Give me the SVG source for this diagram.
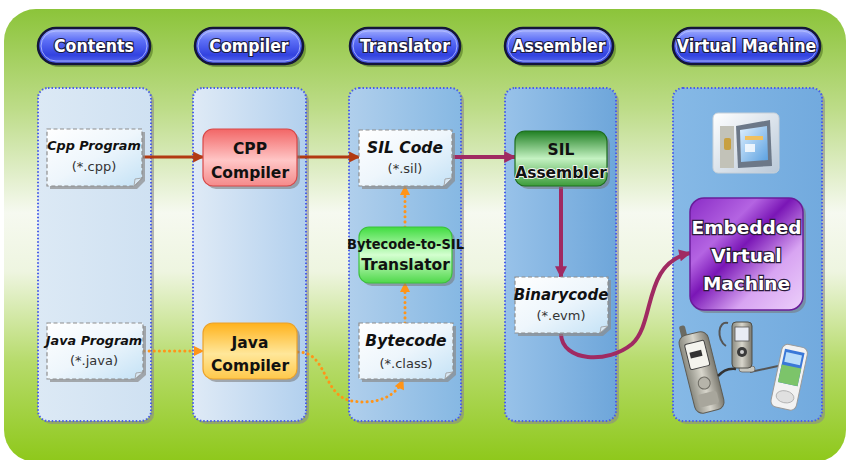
<svg xmlns="http://www.w3.org/2000/svg" width="846" height="460" viewBox="0 0 846 460">
  <defs>
    <linearGradient id="bgGrad" x1="0" y1="0" x2="0" y2="1">
      <stop offset="0" stop-color="#8cc43a"/>
      <stop offset="0.22" stop-color="#bddc88"/>
      <stop offset="0.45" stop-color="#f6f9f0"/>
      <stop offset="0.58" stop-color="#eef5e0"/>
      <stop offset="0.78" stop-color="#b6db6a"/>
      <stop offset="1" stop-color="#8ec81a"/>
    </linearGradient>
    <linearGradient id="pillGrad" x1="0" y1="0" x2="0" y2="1">
      <stop offset="0" stop-color="#a8b4ff"/>
      <stop offset="0.35" stop-color="#5c6ef6"/>
      <stop offset="0.75" stop-color="#3242e0"/>
      <stop offset="1" stop-color="#5a6cf0"/>
    </linearGradient>
    <linearGradient id="col1" x1="0" y1="0" x2="1" y2="0">
      <stop offset="0" stop-color="#dce9f5"/>
      <stop offset="1" stop-color="#cfe1f2"/>
    </linearGradient>
    <linearGradient id="col2" x1="0" y1="0" x2="1" y2="0">
      <stop offset="0" stop-color="#dfeaf6"/>
      <stop offset="1" stop-color="#b2d0ee"/>
    </linearGradient>
    <linearGradient id="col3" x1="0" y1="0" x2="1" y2="0">
      <stop offset="0" stop-color="#b0cfec"/>
      <stop offset="1" stop-color="#86b8e3"/>
    </linearGradient>
    <linearGradient id="col4" x1="0" y1="0" x2="1" y2="0">
      <stop offset="0" stop-color="#98c2e9"/>
      <stop offset="1" stop-color="#6ea6da"/>
    </linearGradient>
    <linearGradient id="col5" x1="0" y1="0" x2="1" y2="0">
      <stop offset="0" stop-color="#86b9e6"/>
      <stop offset="1" stop-color="#72aade"/>
    </linearGradient>
    <linearGradient id="docGrad" x1="0" y1="0" x2="1" y2="1">
      <stop offset="0" stop-color="#ffffff"/>
      <stop offset="0.5" stop-color="#eef6fc"/>
      <stop offset="1" stop-color="#c4e2f6"/>
    </linearGradient>
    <linearGradient id="redGrad" x1="0" y1="0" x2="0" y2="1">
      <stop offset="0" stop-color="#f26666"/>
      <stop offset="0.55" stop-color="#ffc6c6"/>
      <stop offset="1" stop-color="#f58a8a"/>
    </linearGradient>
    <linearGradient id="orangeGrad" x1="0" y1="0" x2="0" y2="1">
      <stop offset="0" stop-color="#ffb21c"/>
      <stop offset="0.55" stop-color="#ffe79a"/>
      <stop offset="1" stop-color="#ffc84a"/>
    </linearGradient>
    <linearGradient id="darkGreenGrad" x1="0" y1="0" x2="0" y2="1">
      <stop offset="0" stop-color="#1f7f22"/>
      <stop offset="0.5" stop-color="#c4f2c2"/>
      <stop offset="1" stop-color="#3c9c3a"/>
    </linearGradient>
    <linearGradient id="greenGrad" x1="0" y1="0" x2="0" y2="1">
      <stop offset="0" stop-color="#3fdc3f"/>
      <stop offset="0.5" stop-color="#d4ffd0"/>
      <stop offset="1" stop-color="#4fd84a"/>
    </linearGradient>
    <linearGradient id="purpleGrad" x1="0" y1="0" x2="1" y2="1">
      <stop offset="0" stop-color="#8a2cc6"/>
      <stop offset="0.3" stop-color="#b464e2"/>
      <stop offset="0.45" stop-color="#7a16b6"/>
      <stop offset="0.7" stop-color="#d8a4f2"/>
      <stop offset="1" stop-color="#ecd0fa"/>
    </linearGradient>
    <linearGradient id="screenGrad" x1="0" y1="0" x2="1" y2="1">
      <stop offset="0" stop-color="#dff0ff"/>
      <stop offset="1" stop-color="#5aa0e0"/>
    </linearGradient>
    <linearGradient id="metalGrad" x1="0" y1="0" x2="1" y2="0">
      <stop offset="0" stop-color="#8a8a80"/>
      <stop offset="0.5" stop-color="#d8d6cc"/>
      <stop offset="1" stop-color="#7a786e"/>
    </linearGradient>
    <linearGradient id="kioskGrad" x1="0" y1="0" x2="1" y2="1">
      <stop offset="0" stop-color="#ffffff"/>
      <stop offset="1" stop-color="#b9c8d8"/>
    </linearGradient>
    <marker id="arrowRed" viewBox="0 0 10 10" refX="9" refY="5" markerWidth="13" markerHeight="11" markerUnits="userSpaceOnUse" orient="auto">
      <path d="M0,0 L10,5 L0,10 Z" fill="#b23a12"/>
    </marker>
    <marker id="arrowPurple" viewBox="0 0 10 10" refX="9" refY="5" markerWidth="14" markerHeight="12" markerUnits="userSpaceOnUse" orient="auto">
      <path d="M0,0 L10,5 L0,10 Z" fill="#a02a62"/>
    </marker>
    <marker id="arrowOrange" viewBox="0 0 10 10" refX="9" refY="5" markerWidth="12" markerHeight="10" markerUnits="userSpaceOnUse" orient="auto">
      <path d="M0,0 L10,5 L0,10 Z" fill="#ff9418"/>
    </marker>
  </defs>
  <style>
    .pill-shadow { fill: #3a5a10; opacity: 0.45; }
    .pill { fill: url(#pillGrad); stroke: #14163a; stroke-width: 2.5; }
    .pill-ring { fill: none; stroke: #b8c2ff; stroke-width: 1; opacity: 0.8; }
    .pill-text { font-family: "DejaVu Sans Condensed", "DejaVu Sans", sans-serif; font-stretch: condensed; font-weight: bold; font-size: 17.5px; fill: #ffffff; stroke: #1a1a40; stroke-width: 2.2; paint-order: stroke; text-anchor: middle; }
    .col-shadow { fill: #8a8a8a; opacity: 0.6; }
    .col { stroke: #4a5ee8; stroke-width: 2; stroke-dasharray: 1.5 2; }
    .doc-shadow { fill: #8c8c8c; opacity: 0.7; }
    .doc { fill: url(#docGrad); stroke: #8e8e8e; stroke-width: 1.2; stroke-dasharray: 4 2.5; }
    .fold { fill: #d8e8f4; stroke: #9a9a9a; stroke-width: 0.8; }
    .doc-title { font-family: "DejaVu Sans", sans-serif; font-weight: bold; font-style: italic; fill: #111; text-anchor: middle; }
    .doc-sub { font-family: "DejaVu Sans", sans-serif; font-size: 13px; fill: #333; text-anchor: middle; }
    .box-shadow { fill: #777; opacity: 0.55; }
    .box-text { font-family: "DejaVu Sans", sans-serif; font-weight: bold; font-size: 15.5px; fill: #111; text-anchor: middle; }
    .box-text-narrow { font-family: "DejaVu Sans Condensed", "DejaVu Sans", sans-serif; font-stretch: condensed; font-weight: bold; font-size: 14.5px; fill: #111; text-anchor: middle; }
    .vm-text { font-family: "DejaVu Sans", sans-serif; font-weight: bold; font-size: 18.5px; fill: #ffffff; stroke: #2a1a3a; stroke-width: 2.4; paint-order: stroke; text-anchor: middle; }
    .edge-red { fill: none; stroke: #b23a12; stroke-width: 3; }
    .edge-purple { fill: none; stroke: #a02a62; stroke-width: 4; }
    .edge-orange { fill: none; stroke: #ff9418; stroke-width: 3; stroke-dasharray: 0.1 5; stroke-linecap: round; }
  </style>

  <!-- backdrop panel -->
  <rect x="4" y="9" width="842" height="453" rx="32" fill="url(#bgGrad)"/>

  <!-- column headers -->
  <g id="header-contents">
    <rect class="pill-shadow" x="41" y="31" width="112" height="36" rx="18"/>
    <rect class="pill" x="38" y="28" width="112" height="36" rx="18"/>
    <rect class="pill-ring" x="41" y="31" width="106" height="30" rx="15"/>
    <text class="pill-text" x="94" y="52">Contents</text>
  </g>
  <g id="header-compiler">
    <rect class="pill-shadow" x="198" y="31" width="108" height="36" rx="18"/>
    <rect class="pill" x="195" y="28" width="108" height="36" rx="18"/>
    <rect class="pill-ring" x="198" y="31" width="102" height="30" rx="15"/>
    <text class="pill-text" x="249" y="52">Compiler</text>
  </g>
  <g id="header-translator">
    <rect class="pill-shadow" x="353" y="31" width="110" height="36" rx="18"/>
    <rect class="pill" x="350" y="28" width="110" height="36" rx="18"/>
    <rect class="pill-ring" x="353" y="31" width="104" height="30" rx="15"/>
    <text class="pill-text" x="405" y="52">Translator</text>
  </g>
  <g id="header-assembler">
    <rect class="pill-shadow" x="508" y="31" width="108" height="36" rx="18"/>
    <rect class="pill" x="505" y="28" width="108" height="36" rx="18"/>
    <rect class="pill-ring" x="508" y="31" width="102" height="30" rx="15"/>
    <text class="pill-text" x="559" y="52">Assembler</text>
  </g>
  <g id="header-vm">
    <rect class="pill-shadow" x="676" y="31" width="147" height="36" rx="18"/>
    <rect class="pill" x="673" y="28" width="147" height="36" rx="18"/>
    <rect class="pill-ring" x="676" y="31" width="141" height="30" rx="15"/>
    <text class="pill-text" x="746.5" y="52">Virtual Machine</text>
  </g>

  <!-- swimlane columns -->
  <g id="lanes">
    <rect class="col-shadow" x="41" y="91" width="113" height="333" rx="10"/>
    <rect class="col" fill="url(#col1)" x="38" y="88" width="113" height="333" rx="10"/>
    <rect class="col-shadow" x="196" y="91" width="113" height="333" rx="10"/>
    <rect class="col" fill="url(#col2)" x="193" y="88" width="113" height="333" rx="10"/>
    <rect class="col-shadow" x="352" y="91" width="112" height="333" rx="10"/>
    <rect class="col" fill="url(#col3)" x="349" y="88" width="112" height="333" rx="10"/>
    <rect class="col-shadow" x="508" y="91" width="111" height="333" rx="10"/>
    <rect class="col" fill="url(#col4)" x="505" y="88" width="111" height="333" rx="10"/>
    <rect class="col-shadow" x="676" y="91" width="149" height="333" rx="10"/>
    <rect class="col" fill="url(#col5)" x="673" y="88" width="149" height="333" rx="10"/>
  </g>

  <!-- connectors -->
  <g id="connectors">
    <path class="edge-red" d="M143,157 H203" marker-end="url(#arrowRed)"/>
    <path class="edge-red" d="M297,157 H359" marker-end="url(#arrowRed)"/>
    <path class="edge-purple" d="M453,157 H515" marker-end="url(#arrowPurple)"/>
    <path class="edge-purple" d="M561,187 V277" marker-end="url(#arrowPurple)"/>
    <path class="edge-purple" d="M561,334 C562,362 608,364 632,344 C656,322 642,264 690,253" marker-end="url(#arrowPurple)"/>
    <path class="edge-orange" d="M144,351 H203" marker-end="url(#arrowOrange)"/>
    <path class="edge-orange" d="M298,352 C328,352 322,396 352,401 C378,405 396,396 403,380" marker-end="url(#arrowOrange)"/>
    <path class="edge-orange" d="M405,323 V283" marker-end="url(#arrowOrange)"/>
    <path class="edge-orange" d="M405,227 V186" marker-end="url(#arrowOrange)"/>
  </g>

  <!-- source files -->
  <g id="cpp-program">
    <path class="doc-shadow" d="M50,132 H145 V181 L137,189 H50 Z"/>
    <path class="doc" d="M47,129 H142 V178 L134,186 H47 Z"/>
    <path class="fold" d="M142,178 L134,186 L135,179 Z"/>
    <text class="doc-title" x="94" y="150" font-size="12.8">Cpp Program</text>
    <text class="doc-sub" x="94" y="171">(*.cpp)</text>
  </g>
  <g id="java-program">
    <path class="doc-shadow" d="M50,326 H146 V375 L138,382 H50 Z"/>
    <path class="doc" d="M47,323 H143 V372 L135,379 H47 Z"/>
    <path class="fold" d="M143,372 L135,379 L136,373 Z"/>
    <text class="doc-title" x="94" y="345" font-size="12.8">Java Program</text>
    <text class="doc-sub" x="94" y="365">(*.java)</text>
  </g>

  <!-- compilers -->
  <g id="cpp-compiler">
    <rect class="box-shadow" x="206" y="132" width="94" height="57" rx="10"/>
    <rect x="203" y="129" width="94" height="57" rx="10" fill="url(#redGrad)" stroke="#d84848" stroke-width="1.2"/>
    <text class="box-text" x="250" y="154" font-size="17">CPP</text>
    <text class="box-text" x="250" y="178">Compiler</text>
  </g>
  <g id="java-compiler">
    <rect class="box-shadow" x="206" y="326" width="94" height="56" rx="10"/>
    <rect x="203" y="323" width="94" height="56" rx="10" fill="url(#orangeGrad)" stroke="#eba22a" stroke-width="1.2"/>
    <text class="box-text" x="250" y="348" font-size="17">Java</text>
    <text class="box-text" x="250" y="371">Compiler</text>
  </g>

  <!-- translator lane -->
  <g id="sil-code">
    <path class="doc-shadow" d="M362,133 H455 V181 L447,189 H362 Z"/>
    <path class="doc" d="M359,130 H452 V178 L444,186 H359 Z"/>
    <path class="fold" d="M452,178 L444,186 L445,179 Z"/>
    <text class="doc-title" x="405" y="153" font-size="15.5">SIL Code</text>
    <text class="doc-sub" x="405" y="173">(*.sil)</text>
  </g>
  <g id="bytecode-translator">
    <rect class="box-shadow" x="362" y="230" width="93" height="56" rx="10"/>
    <rect x="359" y="227" width="93" height="56" rx="10" fill="url(#greenGrad)" stroke="#3cc23c" stroke-width="1.2"/>
    <text class="box-text-narrow" x="405.5" y="249">Bytecode-to-SIL</text>
    <text class="box-text" x="405.5" y="270">Translator</text>
  </g>
  <g id="bytecode">
    <path class="doc-shadow" d="M362,326 H456 V375 L448,382 H362 Z"/>
    <path class="doc" d="M359,323 H453 V372 L445,379 H359 Z"/>
    <path class="fold" d="M453,372 L445,379 L446,373 Z"/>
    <text class="doc-title" x="406" y="346" font-size="15.5">Bytecode</text>
    <text class="doc-sub" x="406" y="368">(*.class)</text>
  </g>

  <!-- assembler lane -->
  <g id="sil-assembler">
    <rect class="box-shadow" x="518" y="134" width="92" height="55" rx="10"/>
    <rect x="515" y="131" width="92" height="55" rx="10" fill="url(#darkGreenGrad)" stroke="#1e6e1e" stroke-width="1.2"/>
    <text class="box-text" x="561" y="155" font-size="18">SIL</text>
    <text class="box-text" x="561" y="178" font-size="15.5" stroke="#ffffff" stroke-width="1.6" paint-order="stroke">Assembler</text>
  </g>
  <g id="binarycode">
    <path class="doc-shadow" d="M518,280 H611 V329 L603,336 H518 Z"/>
    <path class="doc" d="M515,277 H608 V326 L600,333 H515 Z"/>
    <path class="fold" d="M608,326 L600,333 L601,327 Z"/>
    <text class="doc-title" x="561" y="300" font-size="15">Binarycode</text>
    <text class="doc-sub" x="561" y="320">(*.evm)</text>
  </g>

  <!-- virtual machine lane -->
  <g id="kiosk-picture">
    <rect x="713" y="113" width="66" height="60" rx="5" fill="url(#kioskGrad)" stroke="#c8d0d8" stroke-width="1"/>
    <rect x="720" y="126" width="14" height="42" fill="#c2c2b8"/>
    <rect x="724" y="138" width="7" height="12" rx="2" fill="#c8a040"/>
    <path d="M736,126 L770,120 L772,166 L738,168 Z" fill="#6c7888"/>
    <path d="M740,130 L767,126 L768,160 L741,162 Z" fill="url(#screenGrad)"/>
    <rect x="745" y="136" width="18" height="4" fill="#f0c060"/>
    <rect x="745" y="144" width="10" height="8" fill="#ffffff" opacity="0.8"/>
  </g>
  <g id="embedded-vm">
    <rect class="box-shadow" x="693" y="201" width="113" height="112" rx="14"/>
    <rect x="690" y="198" width="113" height="112" rx="14" fill="url(#purpleGrad)" stroke="#6a1c9a" stroke-width="1.5"/>
    <text class="vm-text" x="746.5" y="234">Embedded</text>
    <text class="vm-text" x="746.5" y="262">Virtual</text>
    <text class="vm-text" x="746.5" y="290">Machine</text>
  </g>
  <g id="device-pictures">
    <!-- candy-bar phone with antenna -->
    <g transform="rotate(-14 703 370)">
      <rect x="690" y="322" width="6" height="14" rx="2" fill="#6a6a62"/>
      <rect x="686" y="332" width="30" height="80" rx="8" fill="url(#metalGrad)" stroke="#5e5c54" stroke-width="1"/>
      <rect x="691" y="341" width="20" height="26" rx="2" fill="#f4f4ee" stroke="#444" stroke-width="1"/>
      <rect x="694" y="350" width="12" height="6" fill="#333"/>
      <circle cx="701" cy="383" r="6" fill="#b6b4aa" stroke="#6e6c64" stroke-width="1"/>
      <rect x="691" y="393" width="20" height="13" rx="3" fill="#a8a69c"/>
    </g>
    <!-- music player with earphones -->
    <path d="M728,323 C718,320 716,340 726,346" fill="none" stroke="#555" stroke-width="2"/>
    <path d="M736,369 C726,368 722,372 718,376" fill="none" stroke="#333" stroke-width="2.5"/>
    <path d="M750,372 L778,366" fill="none" stroke="#555" stroke-width="2"/>
    <rect x="739" y="366" width="16" height="6" rx="3" fill="#c8c8c0" stroke="#666" stroke-width="0.8"/>
    <rect x="732" y="322" width="20" height="46" rx="4" fill="url(#metalGrad)" stroke="#4e4e48" stroke-width="1"/>
    <rect x="735" y="327" width="14" height="14" fill="#e8ecf4" stroke="#555" stroke-width="0.8"/>
    <circle cx="742" cy="352" r="5" fill="#3a3a3a"/>
    <circle cx="742" cy="352" r="2" fill="#cfcfcf"/>
    <!-- smartphone -->
    <g transform="rotate(12 788 378)">
      <rect x="776" y="345" width="26" height="64" rx="6" fill="#f2f2f2" stroke="#9a9a9a" stroke-width="1"/>
      <rect x="779" y="350" width="20" height="34" fill="#3a78d8"/>
      <rect x="779" y="366" width="20" height="18" fill="#7cc46a"/>
      <rect x="781" y="353" width="16" height="10" fill="#b8dcfa"/>
      <ellipse cx="789" cy="397" rx="9" ry="6" fill="#e0e0e0" stroke="#aaa" stroke-width="0.8"/>
    </g>
  </g>
</svg>
